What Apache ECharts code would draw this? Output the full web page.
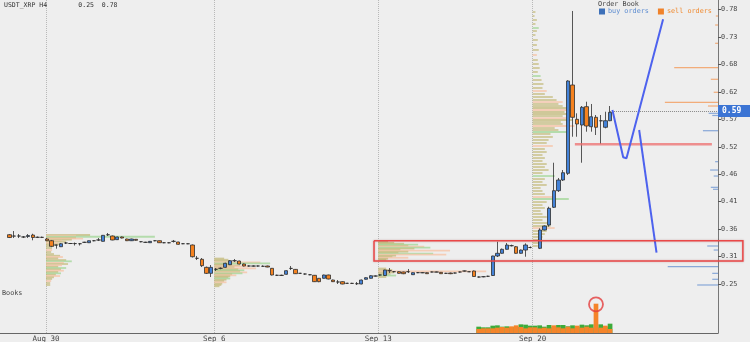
<!DOCTYPE html>
<html><head><meta charset="utf-8">
<script src="https://cdn.jsdelivr.net/npm/echarts@6/dist/echarts.min.js"></script>
<style>html,body{margin:0;padding:0;background:#eeeeee}#c{width:750px;height:342px}</style>
</head><body><div id="c"></div>
<script>
const MONO = "'DejaVu Sans Mono', monospace";
// y-axis tick label values (price)
const yTicks = [0.2525, 0.3055, 0.3585, 0.4115, 0.4645, 0.5175, 0.5705, 0.6235, 0.6765, 0.7295, 0.7825];
// week start positions (candle index units) and labels
const dateTicks = [9.8, 45.66, 80.6, 113.5];
const dateLabels = ['Aug 30', 'Sep 6', 'Sep 13', 'Sep 20'];
// H4 candles: [index, open, close, low, high]
const candles = [
[2,0.3477,0.3423,0.3413,0.3490],[3,0.3452,0.3450,0.3413,0.3548],[4,0.3452,0.3452,0.3413,0.3490],
[5,0.3433,0.3433,0.3413,0.3452],[6,0.3442,0.3461,0.3413,0.3490],[7,0.3471,0.3423,0.3369,0.3496],
[8,0.3427,0.3427,0.3413,0.3442],[9,0.3427,0.3425,0.3413,0.3440],[10,0.3394,0.3361,0.3355,0.3413],
[11,0.3361,0.3253,0.3239,0.3375],[12,0.3278,0.3276,0.3207,0.3284],[13,0.3245,0.3303,0.3239,0.3317],
[14,0.3317,0.3317,0.3297,0.3336],[15,0.3307,0.3307,0.3297,0.3317],[16,0.3307,0.3305,0.3268,0.3326],
[17,0.3303,0.3303,0.3268,0.3317],[18,0.3330,0.3330,0.3317,0.3340],[19,0.3322,0.3361,0.3317,0.3365],
[20,0.3361,0.3361,0.3350,0.3370],[21,0.3375,0.3375,0.3355,0.3413],[22,0.3349,0.3465,0.3345,0.3471],
[23,0.3477,0.3475,0.3452,0.3510],[24,0.3452,0.3375,0.3370,0.3461],[25,0.3381,0.3433,0.3375,0.3440],
[26,0.3433,0.3413,0.3405,0.3442],[27,0.3394,0.3361,0.3355,0.3400],[28,0.3361,0.3394,0.3355,0.3400],
[29,0.3388,0.3369,0.3360,0.3394],[30,0.3342,0.3342,0.3330,0.3350],[31,0.3330,0.3330,0.3320,0.3340],
[32,0.3322,0.3349,0.3317,0.3355],[33,0.3361,0.3361,0.3350,0.3370],[34,0.3361,0.3322,0.3317,0.3365],
[35,0.3322,0.3322,0.3313,0.3330],[36,0.3322,0.3320,0.3313,0.3330],[37,0.3349,0.3349,0.3326,0.3375],
[38,0.3336,0.3291,0.3285,0.3340],[39,0.3303,0.3303,0.3295,0.3310],[40,0.3303,0.3301,0.3295,0.3310],
[41,0.3278,0.3052,0.3037,0.3288],[42,0.3021,0.3021,0.2988,0.3066],[43,0.3002,0.2879,0.2853,0.3027],
[44,0.2847,0.2731,0.2718,0.2862],[45,0.2731,0.2847,0.2660,0.2892],[46,0.2809,0.2809,0.2776,0.2834],
[47,0.2828,0.2828,0.2810,0.2845],[48,0.2847,0.2925,0.2840,0.2935],[49,0.2898,0.2975,0.2890,0.2985],
[50,0.2975,0.2975,0.2950,0.3008],[51,0.2969,0.2911,0.2905,0.2975],[52,0.2911,0.2873,0.2865,0.2920],
[53,0.2873,0.2873,0.2860,0.2885],[54,0.2873,0.2871,0.2860,0.2885],[55,0.2873,0.2873,0.2862,0.2880],
[56,0.2867,0.2867,0.2855,0.2885],[57,0.2873,0.2853,0.2848,0.2880],[58,0.2828,0.2699,0.2690,0.2834],
[59,0.2693,0.2693,0.2680,0.2705],[60,0.2693,0.2691,0.2680,0.2705],[61,0.2712,0.2782,0.2705,0.2790],
[62,0.2826,0.2826,0.2795,0.2873],[63,0.2807,0.2724,0.2718,0.2815],[64,0.2731,0.2731,0.2720,0.2740],
[65,0.2718,0.2718,0.2705,0.2728],[66,0.2705,0.2703,0.2695,0.2715],[67,0.2693,0.2570,0.2564,0.2699],
[68,0.2635,0.2570,0.2560,0.2641],[69,0.2635,0.2699,0.2630,0.2705],[70,0.2699,0.2622,0.2615,0.2705],
[71,0.2602,0.2570,0.2564,0.2610],[72,0.2564,0.2564,0.2525,0.2602],[73,0.2570,0.2525,0.2520,0.2578],
[74,0.2538,0.2538,0.2530,0.2548],[75,0.2538,0.2536,0.2530,0.2548],[76,0.2531,0.2531,0.2506,0.2564],
[77,0.2525,0.2602,0.2520,0.2610],[78,0.2616,0.2647,0.2610,0.2655],[79,0.2635,0.2685,0.2630,0.2695],
[80,0.2679,0.2679,0.2670,0.2690],[81,0.2699,0.2699,0.2685,0.2710],[82,0.2689,0.2795,0.2680,0.2800],
[83,0.2782,0.2782,0.2737,0.2834],[84,0.2763,0.2763,0.2750,0.2776],[85,0.2763,0.2731,0.2725,0.2770],
[86,0.2757,0.2724,0.2715,0.2763],[87,0.2763,0.2763,0.2737,0.2815],[88,0.2705,0.2744,0.2700,0.2750],
[89,0.2744,0.2744,0.2735,0.2755],[90,0.2744,0.2742,0.2735,0.2755],[91,0.2744,0.2724,0.2720,0.2750],
[92,0.2757,0.2757,0.2750,0.2765],[93,0.2757,0.2755,0.2750,0.2765],[94,0.2750,0.2724,0.2720,0.2757],
[95,0.2731,0.2731,0.2725,0.2740],[96,0.2737,0.2724,0.2715,0.2745],[97,0.2737,0.2737,0.2730,0.2745],
[98,0.2757,0.2757,0.2745,0.2763],[99,0.2776,0.2776,0.2765,0.2785],[100,0.2763,0.2761,0.2755,0.2770],
[101,0.2776,0.2670,0.2665,0.2785],[102,0.2660,0.2660,0.2650,0.2670],[103,0.2666,0.2666,0.2655,0.2675],
[104,0.2674,0.2674,0.2660,0.2685],[105,0.2689,0.3066,0.2680,0.3070],[106,0.3066,0.3118,0.3046,0.3342],
[107,0.3118,0.3195,0.3110,0.3210],[108,0.3195,0.3278,0.3190,0.3317],[109,0.3265,0.3265,0.3250,0.3285],
[110,0.3245,0.3118,0.3110,0.3259],[111,0.3118,0.3181,0.3110,0.3190],[112,0.3181,0.3278,0.3052,0.3310],
[113,0.3230,0.3230,0.3215,0.3250],[115,0.3214,0.3568,0.3200,0.3600],[116,0.3568,0.3645,0.3560,0.3655],
[117,0.3664,0.3987,0.3632,0.4017],[118,0.4006,0.4327,0.3993,0.4867],[119,0.4327,0.4533,0.4302,0.4572],
[120,0.4533,0.4674,0.4514,0.4726],[121,0.4662,0.6445,0.4630,0.6460],[122,0.6368,0.5744,0.5369,0.7797],
[123,0.5705,0.5615,0.5369,0.5821],[124,0.5595,0.5937,0.4867,0.5962],[125,0.5949,0.5576,0.5466,0.6045],
[126,0.5562,0.5755,0.5466,0.6001],[127,0.5744,0.5551,0.5402,0.5788],[128,0.5678,0.5676,0.5228,0.5788],
[129,0.5551,0.5678,0.5531,0.5852],[130,0.5678,0.5840,0.5670,0.5962]
];
const lastPrice = 0.5866;
// volume (bottom bars)
const volIndex = [102,103,104,105,106,107,108,109,110,111,112,113,114,115,116,117,118,119,120,121,122,123,124,125,126,127,128,129,130];
const volGreen = [1.9,1.7,1.7,2.2,2.3,1.9,2.0,1.8,1.8,2.6,2.5,2.2,2.2,2.3,1.9,2.4,1.8,2.4,2.4,2.0,2.3,1.9,2.5,2.3,2.6,1.6,2.6,1.9,2.8];
const volOrange = [1.2,1.4,1.4,1.4,1.6,1.8,1.6,2.0,2.3,1.8,1.4,1.7,1.7,1.4,1.6,1.4,2.3,1.7,1.4,1.9,1.4,2.2,1.6,1.9,1.6,8.8,1.6,2.2,1.2];
// weekly volume profiles: [price, length, colour type]
const profAug30 = [[0.3471,9.4,0],[0.3458,6.4,2],[0.3438,23.2,1],[0.3413,6.4,0],[0.3400,7.9,2],[0.3380,5.5,0],[0.3361,3.4,2],[0.3342,4.3,0],[0.3317,2.6,2],[0.3292,3.0,0],[0.3259,1.7,0],[0.3220,1.3,0],[0.3181,1.3,2],[0.3143,1.1,0],[0.3104,1.7,0],[0.3071,3.0,0],[0.3046,3.6,2],[0.3021,2.6,0],[0.2988,4.3,0],[0.2963,5.5,1],[0.2936,3.8,2],[0.2911,4.7,0],[0.2886,3.4,2],[0.2859,2.6,0],[0.2834,4.3,1],[0.2809,3.2,0],[0.2782,3.8,2],[0.2757,2.6,0],[0.2731,3.2,1],[0.2705,2.1,0],[0.2679,3.0,2],[0.2654,1.7,0],[0.2622,1.3,0],[0.2583,1.1,2],[0.2544,0.9,0],[0.2506,0.9,0]];
const profSep6 = [[0.3017,2.1,0],[0.2994,3.0,0],[0.2969,3.4,0],[0.2944,9.8,2],[0.2925,11.9,1],[0.2905,3.8,0],[0.2886,5.5,0],[0.2867,7.2,2],[0.2847,4.3,0],[0.2828,8.9,2],[0.2809,5.1,0],[0.2789,6.4,1],[0.2770,5.5,0],[0.2751,7.0,2],[0.2731,6.0,1],[0.2712,3.8,0],[0.2693,4.7,2],[0.2674,3.4,0],[0.2654,3.0,0],[0.2631,3.4,1],[0.2608,2.6,0],[0.2583,2.1,0],[0.2558,2.6,2],[0.2531,1.7,0],[0.2506,1.5,0],[0.2481,1.1,0]];
const profSep13 = [[0.3342,2.1,0],[0.3322,3.4,0],[0.3303,5.5,0],[0.3284,8.5,1],[0.3265,6.4,0],[0.3245,9.8,2],[0.3226,11.1,1],[0.3207,7.7,0],[0.3187,4.7,0],[0.3168,15.3,2],[0.3149,6.4,0],[0.3129,4.3,0],[0.3110,11.7,1],[0.3091,14.5,2],[0.3071,3.8,0],[0.3052,3.0,0],[0.3033,6.4,2],[0.3013,2.1,0],[0.2994,1.7,0],[0.2824,1.7,0],[0.2795,3.0,0],[0.2770,23.0,2],[0.2747,3.4,0],[0.2718,2.6,0],[0.2689,3.8,1],[0.2660,1.7,0]];
const profSep20 = [[0.7777,0.6,0],[0.7700,0.4,0],[0.7623,0.9,0],[0.7546,0.6,0],[0.7468,1.3,1],[0.7410,0.9,0],[0.7333,0.6,0],[0.7237,1.1,0],[0.7140,0.9,0],[0.7044,1.3,0],[0.6947,0.9,2],[0.6850,1.1,0],[0.6773,1.3,0],[0.6696,1.5,0],[0.6619,1.1,0],[0.6541,1.7,1],[0.6464,1.9,0],[0.6387,2.3,0],[0.6310,2.1,0],[0.6252,3.0,2],[0.6194,2.6,0],[0.6136,4.3,0],[0.6078,5.1,0],[0.6039,6.4,2],[0.6001,5.5,0],[0.5962,6.4,0],[0.5924,7.2,0],[0.5885,8.1,2],[0.5846,6.8,0],[0.5808,7.7,0],[0.5769,6.4,0],[0.5730,7.2,2],[0.5692,8.5,0],[0.5653,6.0,0],[0.5615,6.4,0],[0.5576,8.9,2],[0.5537,4.7,0],[0.5499,5.5,0],[0.5460,7.7,1],[0.5422,3.8,0],[0.5364,4.3,0],[0.5306,3.4,0],[0.5248,3.0,0],[0.5190,4.3,2],[0.5132,2.6,0],[0.5074,3.0,0],[0.5016,2.1,0],[0.4958,2.6,0],[0.4900,2.1,0],[0.4842,3.0,0],[0.4784,2.6,0],[0.4726,3.4,0],[0.4668,2.1,0],[0.4610,4.7,1],[0.4552,2.6,0],[0.4495,2.1,0],[0.4437,3.0,0],[0.4379,1.7,0],[0.4321,2.1,0],[0.4263,2.6,0],[0.4205,4.3,2],[0.4166,7.7,1],[0.4108,3.0,0],[0.4050,2.1,0],[0.3993,2.6,0],[0.3935,1.7,0],[0.3877,2.1,0],[0.3819,3.0,0],[0.3761,2.1,0],[0.3703,3.4,0],[0.3645,3.8,0],[0.3606,4.7,2],[0.3548,3.0,0],[0.3490,2.6,0],[0.3433,2.1,0],[0.3375,1.7,0],[0.3317,1.3,0],[0.3259,1.1,0]];
// order book: [size, price]
const sellOrders = [[0.3,0.7700],[0.4,0.7526],[0.4,0.7173],[6.1,0.6702],[1.0,0.6478],[0.6,0.6227],[7.4,0.6034],[1.4,0.5962]];
const buyOrders = [[1.3,0.5821],[0.8,0.5779],[2.1,0.5485],[0.4,0.4887],[1.1,0.4726],[0.6,0.4610],[1.0,0.4392],[0.7,0.4354],[1.5,0.3259],[0.6,0.3181],[7.0,0.2859],[0.8,0.2731],[0.8,0.2616],[2.9,0.2506]];
// hand-drawn annotations (data coords)
const trendLine1 = [[130.5,0.5885],[132.8,0.4972],[133.5,0.4952],[141.3,0.7636]];
const trendLine2 = [[136.2,0.5499],[139.9,0.3129]];
const supportLine = [[122.5,0.5223],[151.7,0.5223]];
const zoneBox = [[79.7,0.3361],[158.3,0.3361],[158.3,0.2969],[79.7,0.2969],[79.7,0.3361]];
const spikeMark = [[127,8.6]];

const X_MAX = 153;
const profColors = ['rgba(196,186,120,0.72)', 'rgba(160,214,150,0.75)', 'rgba(246,196,168,0.8)'];
const profiles = [profAug30, profSep6, profSep13, profSep20];
const profData = [];
profiles.forEach((p, w) => p.forEach(r => profData.push([dateTicks[w], r[0], r[1], r[2]])));

function profItem(params, api) {
  const x0 = api.value(0), p = api.value(1), len = api.value(2), t = api.value(3);
  const a = api.coord([x0, p]), b = api.coord([x0 + len, p]);
  return { type: 'rect', shape: { x: a[0], y: a[1] - 0.9, width: b[0] - a[0], height: 1.8 }, style: { fill: profColors[t] } };
}
function bookItem(color) {
  return function (params, api) {
    const s = api.value(0), p = api.value(1);
    const a = api.coord([0, p]), b = api.coord([s, p]);
    return { type: 'rect', shape: { x: Math.min(a[0], b[0]), y: a[1] - 0.6, width: Math.abs(a[0] - b[0]), height: 1.2 }, style: { fill: color } };
  };
}

const chart = echarts.init(document.getElementById('c'), null, { renderer: 'canvas' });
chart.setOption({
  animation: false,
  backgroundColor: '#eeeeee',
  title: [
    { text: 'USDT_XRP H4        0.25  0.78', left: 4, top: 2, padding: 0, textStyle: { fontSize: 6.5, fontFamily: MONO, color: '#333', fontWeight: 'normal' } },
    { text: 'Order Book', left: 598, top: 1, padding: 0, textStyle: { fontSize: 6.8, fontFamily: MONO, color: '#444', fontWeight: 'normal' } },
    { text: 'Books', left: 2, top: 290, padding: 0, textStyle: { fontSize: 6.8, fontFamily: MONO, color: '#444', fontWeight: 'normal' } }
  ],
  legend: {
    left: 599, top: 8, padding: 0, itemWidth: 6, itemHeight: 6, itemGap: 9, icon: 'rect', selectedMode: false,
    textStyle: { fontSize: 6.8, fontFamily: MONO, padding: [0, 0, 0, -2] },
    data: [
      { name: 'buy orders', itemStyle: { color: '#3d70b8' }, textStyle: { color: '#5b8bd0' } },
      { name: 'sell orders', itemStyle: { color: '#f0822a' }, textStyle: { color: '#f08a30' } }
    ]
  },
  grid: { left: 0, right: 32, top: 0, bottom: 9, containLabel: false, outerBoundsMode: 'none' },
  xAxis: [
    {
      type: 'value', min: 0, max: X_MAX,
      axisLine: { show: true, onZero: false, lineStyle: { color: '#666', width: 1 } },
      axisTick: { show: false, customValues: dateTicks },
      axisLabel: { customValues: dateTicks, fontSize: 7.5, fontFamily: MONO, color: '#444', margin: 2,
        formatter: v => { const i = dateTicks.indexOf(v); return i >= 0 ? dateLabels[i] : ''; } },
      splitLine: { show: true, lineStyle: { color: '#b8b8b8', type: 'dotted', width: 1 } }
    },
    { type: 'value', min: 0, max: 100, inverse: true, show: false }
  ],
  yAxis: [
    {
      type: 'value', position: 'right', min: 0.1579, max: 0.8009, scale: true,
      axisLine: { show: true, onZero: false, lineStyle: { color: '#777', width: 1 } },
      axisTick: { show: true, length: 3, customValues: yTicks, lineStyle: { color: '#555' } },
      axisLabel: { customValues: yTicks, fontSize: 6.8, fontFamily: MONO, color: '#444', margin: 3,
        formatter: v => v.toFixed(2) },
      splitLine: { show: false }
    },
    { type: 'value', min: 0, max: 100, show: false }
  ],
  series: [
    { type: 'custom', name: 'profile', renderItem: profItem, data: profData, encode: { x: 0, y: 1 }, z: 1, clip: true, silent: true },
    { type: 'custom', name: 'buy orders', xAxisIndex: 1, yAxisIndex: 0, renderItem: bookItem('rgba(110,150,210,0.8)'), data: buyOrders, encode: { x: 0, y: 1 }, itemStyle: { color: '#3d70b8' }, z: 2, silent: true },
    { type: 'custom', name: 'sell orders', xAxisIndex: 1, yAxisIndex: 0, renderItem: bookItem('rgba(242,160,100,0.85)'), data: sellOrders, encode: { x: 0, y: 1 }, itemStyle: { color: '#f0822a' }, z: 2, silent: true },
    { type: 'bar', name: 'volG', xAxisIndex: 0, yAxisIndex: 1, data: volIndex.map((k, i) => [k, volGreen[i]]), barWidth: 4.7, barGap: '-100%', itemStyle: { color: '#3dab3a' }, z: 3, silent: true },
    { type: 'bar', name: 'volO', xAxisIndex: 0, yAxisIndex: 1, data: volIndex.map((k, i) => [k, volOrange[i]]), barWidth: 4.7, barGap: '-100%', itemStyle: { color: '#f5842a' }, z: 3, silent: true },
    {
      type: 'candlestick', name: 'XRP', data: candles, encode: { x: 0, y: [1, 2, 3, 4] }, barWidth: 3.8, z: 5, silent: true,
      itemStyle: { color: '#4382d8', color0: '#f5821f', borderColor: '#2e2e2e', borderColor0: '#2e2e2e', borderColorDoji: '#2e2e2e', borderWidth: 0.8 },
      markLine: {
        symbol: ['none', 'none'], silent: true, animation: false,
        lineStyle: { color: '#888', type: 'dotted', width: 1 },
        label: { show: true, position: 'end', distance: 0, formatter: () => lastPrice.toFixed(2), backgroundColor: '#3b74d4', color: '#fff', fontWeight: 'bold', fontFamily: MONO, fontSize: 8, padding: [2, 9, 2, 4] },
        data: [[{ coord: [candles[candles.length - 1][0], lastPrice] }, { coord: [X_MAX, lastPrice] }]]
      }
    },
    { type: 'line', name: 'support', data: supportLine, symbol: 'none', z: 6, silent: true,
      lineStyle: { color: 'rgba(238,110,110,0.75)', width: 2.5 } },
    { type: 'line', name: 'trend1', data: trendLine1, symbol: 'none', z: 7, silent: true,
      lineStyle: { color: '#4d62ee', width: 2 } },
    { type: 'line', name: 'trend2', data: trendLine2, symbol: 'none', z: 7, silent: true,
      lineStyle: { color: '#4d62ee', width: 2 } },
    { type: 'scatter', name: 'spike', xAxisIndex: 0, yAxisIndex: 1, data: spikeMark, symbol: 'circle', symbolSize: 14, z: 7, silent: true,
      itemStyle: { color: 'rgba(0,0,0,0)', borderColor: '#e33c3c', borderWidth: 1.8 } }
  ]
});
// red zone box: extends past the plot edge, placed through the chart's own scales
const boxPts = zoneBox.map(p => chart.convertToPixel({ xAxisIndex: 0, yAxisIndex: 0 }, p));
chart.setOption({
  graphic: [{
    type: 'polyline', z: 100, silent: true,
    shape: { points: boxPts },
    style: { stroke: '#ea4848', lineWidth: 1.5, fill: null, shadowBlur: 2, shadowColor: 'rgba(120,0,0,0.3)' }
  }]
});
</script></body></html>
